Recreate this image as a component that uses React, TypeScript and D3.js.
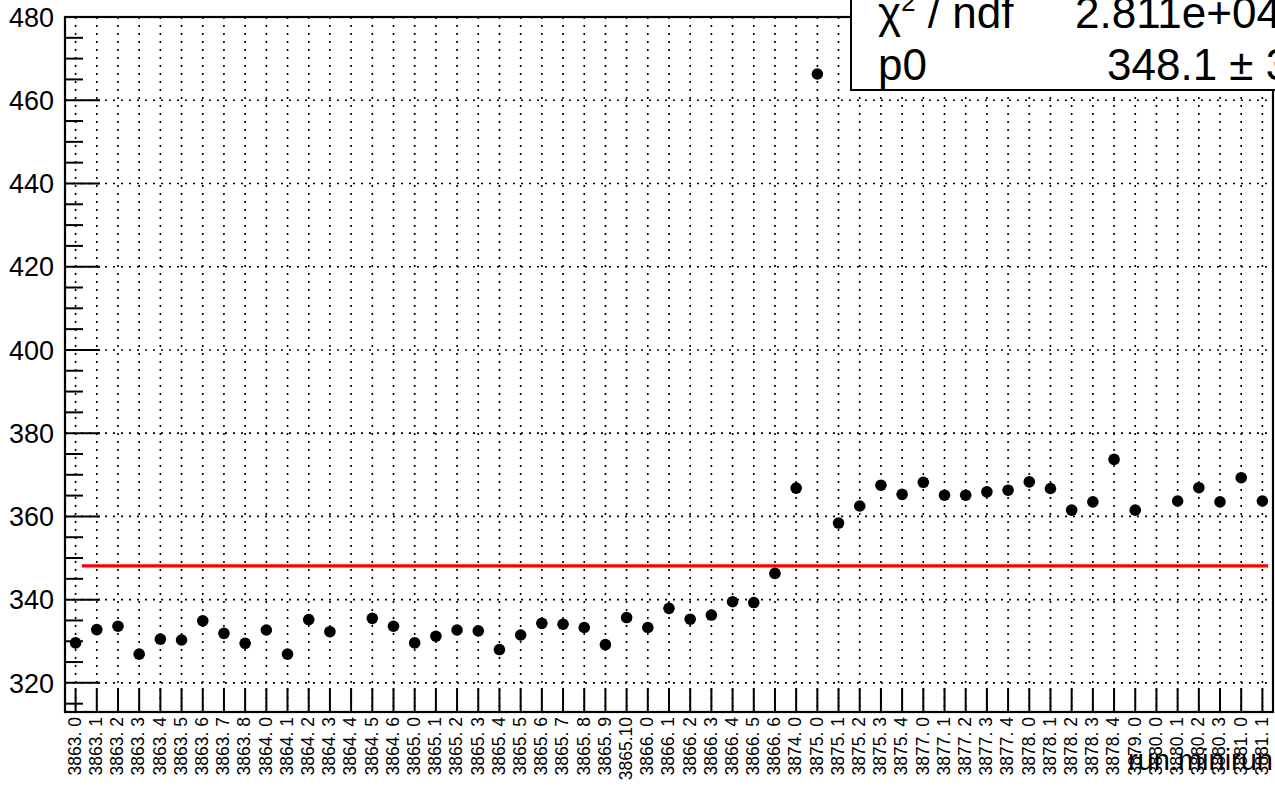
import * as d3 from "d3";

// bin labels on the x axis (run.minirun)
const runLabels = [
  "3863. 0", "3863. 1", "3863. 2", "3863. 3", "3863. 4", "3863. 5", "3863. 6", "3863. 7", "3863. 8",
  "3864. 0", "3864. 1", "3864. 2", "3864. 3", "3864. 4", "3864. 5", "3864. 6",
  "3865. 0", "3865. 1", "3865. 2", "3865. 3", "3865. 4", "3865. 5", "3865. 6", "3865. 7", "3865. 8", "3865. 9", "3865.10",
  "3866. 0", "3866. 1", "3866. 2", "3866. 3", "3866. 4", "3866. 5", "3866. 6",
  "3874. 0",
  "3875. 0", "3875. 1", "3875. 2", "3875. 3", "3875. 4",
  "3877. 0", "3877. 1", "3877. 2", "3877. 3", "3877. 4",
  "3878. 0", "3878. 1", "3878. 2", "3878. 3", "3878. 4",
  "3879. 0",
  "3880. 0", "3880. 1", "3880. 2", "3880. 3",
  "3881. 0", "3881. 1",
];

// measured value per bin (null = empty bin)
const values: (number | null)[] = [
  329.6, 332.8, 333.6, 326.9, 330.5, 330.3, 334.9, 331.9, 329.5,
  332.7, 326.9, 335.2, 332.3, null, 335.5, 333.6,
  329.6, 331.2, 332.7, 332.5, 328.0, 331.5, 334.3, 334.1, 333.3, 329.2, 335.7,
  333.3, 337.9, 335.3, 336.3, 339.5, 339.3, 346.3,
  366.8,
  466.3, 358.4, 362.5, 367.5, 365.3,
  368.2, 365.1, 365.1, 365.9, 366.3,
  368.3, 366.7, 361.5, 363.5, 373.7,
  361.5,
  null, 363.7, 366.9, 363.5,
  369.3, 363.7,
];

const yMajorTicks = [320, 340, 360, 380, 400, 420, 440, 460, 480];
const yMinorTicks = d3.range(315, 481, 5);
const yDomain: [number, number] = [313, 480];

// pol0 fit
const fitP0 = 348.1;
const fitRange: [number, number] = [0.8, 56.77]; // in bin units

const statsRows = [
  { name: "chi2", value: "2.811e+04 / 55" },
  { name: "p0", value: "348.1 \u00b1 3.2" },
];

const W = 1275;
const H = 786;
const frame = { left: 65, right: 1273, top: 17, bottom: 712 };
const font = "'Liberation Sans', Arial, Helvetica, sans-serif";

export default function App() {
  const x = d3
    .scaleBand<string>()
    .domain(runLabels)
    .range([frame.left, frame.right])
    .paddingInner(0)
    .paddingOuter(0);
  const bw = x.bandwidth();
  const cx = (l: string) => (x(l) ?? 0) + bw / 2;
  const xBin = d3
    .scaleLinear()
    .domain([0, runLabels.length])
    .range([frame.left, frame.right]);
  const y = d3.scaleLinear().domain(yDomain).range([frame.bottom, frame.top]);

  const fitLine = d3
    .line<number>()
    .x((d) => xBin(d))
    .y(() => y(fitP0));

  const dots = runLabels
    .map((l, i) => ({ l, v: values[i] }))
    .filter((d) => d.v !== null) as { l: string; v: number }[];

  return (
    <svg
      width={W}
      height={H}
      style={{ position: "absolute", left: 0, top: 0, background: "#fff" }}
      fontFamily={font}
    >
      <rect x={0} y={0} width={W} height={H} fill="#fff" />

      {/* grid */}
      <g stroke="#000" strokeWidth={1.6} strokeDasharray="2 6" fill="none">
        {runLabels.map((l) => (
          <line key={"gx" + l} x1={cx(l)} x2={cx(l)} y1={frame.top} y2={frame.bottom} />
        ))}
        {yMajorTicks
          .filter((t) => t < yDomain[1])
          .map((t) => (
            <line key={"gy" + t} x1={frame.left} x2={frame.right} y1={y(t)} y2={y(t)} />
          ))}
      </g>

      {/* fit function */}
      <path d={fitLine(fitRange) ?? ""} stroke="#ff0000" strokeWidth={3.2} fill="none" />

      {/* markers */}
      <g fill="#000">
        {dots.map((d) => (
          <circle key={"p" + d.l} cx={cx(d.l)} cy={y(d.v)} r={5.8} />
        ))}
      </g>

      {/* frame */}
      <rect
        x={frame.left}
        y={frame.top}
        width={frame.right - frame.left}
        height={frame.bottom - frame.top}
        fill="none"
        stroke="#000"
        strokeWidth={2.2}
      />

      {/* y axis ticks */}
      <g stroke="#000" strokeWidth={2}>
        {yMinorTicks.map((t) => {
          const major = yMajorTicks.includes(t);
          return (
            <line
              key={"ty" + t}
              x1={frame.left}
              x2={frame.left + (major ? 35 : 18)}
              y1={y(t)}
              y2={y(t)}
            />
          );
        })}
      </g>
      <g fontSize={27} textAnchor="end" fill="#000">
        {yMajorTicks.map((t) => (
          <text key={"ly" + t} x={54} y={y(t)} dy="0.36em">
            {t}
          </text>
        ))}
      </g>

      {/* x axis ticks and labels */}
      <g stroke="#000" strokeWidth={2}>
        {runLabels.map((l) => (
          <line key={"tx" + l} x1={cx(l)} x2={cx(l)} y1={frame.bottom} y2={frame.bottom - 24} />
        ))}
      </g>
      <g fontSize={17.5} textAnchor="end" fill="#000">
        {runLabels.map((l) => (
          <text
            key={"lx" + l}
            transform={`translate(${cx(l) - 1},717) rotate(-90)`}
            dy="0.36em"
            style={{ whiteSpace: "pre" }}
          >
            {l}
          </text>
        ))}
      </g>
      <text x={frame.right} y={770} fontSize={29} textAnchor="end" fill="#000">
        run.minirun
      </text>

      {/* stats box */}
      <rect x={851} y={-10} width={500} height={100} fill="#fff" stroke="#000" strokeWidth={2} />
      <g fontSize={44} fill="#000">
        <text x={878} y={28}>
          {"\u03c7"}
          <tspan fontSize={26} dy={-17}>2</tspan>
          <tspan dy={17}>{" / ndf"}</tspan>
        </text>
        <text x={1075} y={28}>{statsRows[0].value}</text>
        <text x={878} y={80}>{statsRows[1].name}</text>
        <text x={1107} y={80} style={{ whiteSpace: "pre" }}>{statsRows[1].value}</text>
      </g>
    </svg>
  );
}
